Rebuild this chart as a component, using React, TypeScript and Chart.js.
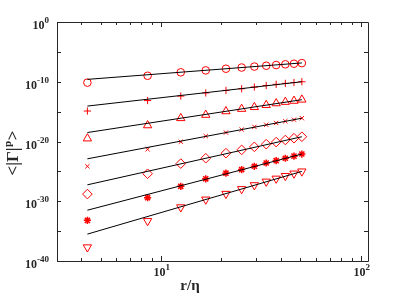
import React, { useEffect, useRef } from "react";
import { Chart, registerables } from "chart.js";

Chart.register(...registerables);

// r/eta positions of the measured points
const rEta = [4.3, 8.6, 12.6, 16.8, 21.2, 25.4, 29.4, 33.7, 37.8, 42.0, 46.4, 50.8];

// log10 of <|Gamma|^p> for each order
const s1Log = [-10.15, -9.0, -8.42, -8.1, -7.82, -7.62, -7.46, -7.32, -7.2, -7.08, -6.98, -6.88];
const s2Log = [-14.9, -13.15, -12.4, -11.87, -11.45, -11.17, -10.88, -10.63, -10.43, -10.27, -10.13, -10.0];
const s3Log = [-19.5, -17.3, -16.1, -15.55, -14.95, -14.55, -14.25, -13.9, -13.62, -13.38, -13.2, -13.0];
const s4Log = [-24.15, -21.3, -20.05, -19.1, -18.5, -18.0, -17.55, -17.2, -16.9, -16.6, -16.35, -16.1];
const s5Log = [-28.8, -25.4, -23.7, -22.8, -21.95, -21.4, -20.9, -20.45, -20.1, -19.75, -19.45, -19.2];
const s6Log = [-33.2, -29.4, -27.5, -26.25, -25.3, -24.7, -24.15, -23.6, -23.2, -22.8, -22.45, -22.1];
const s7Log = [-37.7, -33.3, -31.0, -29.7, -28.75, -27.95, -27.3, -26.7, -26.2, -25.75, -25.35, -25.0];

// power-law fit lines: endpoints in r/eta and log10 values
const fitX = [4.3, 50.8];
const fitStartLog = [-9.6, -14.07, -18.5, -22.9, -27.25, -31.5, -35.5];
const fitEndLog = [-6.85, -10.0, -13.0, -16.1, -19.2, -22.1, -25.0];

const markerStyles = ["circle", "cross", "triangle", "crossRot", "rectRot", "star", "triangle"];
const markerRotations = [0, 0, 0, 0, 0, 0, 180];
const markerRadii = [3.8, 3.6, 4.8, 3, 4.8, 3.6, 4.8];
const markerFilled = [false, false, false, false, false, true, false];

const xMajorTicks = [10, 100];
const xMinorTicks = [4, 5, 6, 7, 8, 9, 20, 30, 40, 50, 60, 70, 80, 90];
const yTickExps = [-40, -35, -30, -25, -20, -15, -10, -5, 0];
const yLabelExps = [-40, -30, -20, -10, 0];

const xTitle = "r/η";
const yTitleMain = "<|Γ|";
const yTitleSup = "p";
const yTitleEnd = ">";

const FONT = "'Liberation Serif', 'Times New Roman', serif";
const INK = "#262626";

function drawPow(ctx: CanvasRenderingContext2D, exp: number, x: number, baseY: number, align: "right" | "center") {
  const base = "10";
  const sup = String(exp);
  ctx.font = `bold 12px ${FONT}`;
  const wb = ctx.measureText(base).width;
  ctx.font = `bold 9px ${FONT}`;
  const ws = ctx.measureText(sup).width;
  const start = align === "right" ? x - wb - ws : x - (wb + ws) / 2;
  ctx.textAlign = "left";
  ctx.textBaseline = "alphabetic";
  ctx.font = `bold 12px ${FONT}`;
  ctx.fillText(base, start, baseY);
  ctx.font = `bold 9px ${FONT}`;
  ctx.fillText(sup, start + wb, baseY - 6);
}

const framePlugin = {
  id: "matlabFrame",
  afterDraw(chart: any) {
    const { ctx, chartArea } = chart;
    const { left, right, top, bottom } = chartArea;
    const xs = chart.scales.x;
    const ys = chart.scales.y;
    ctx.save();
    ctx.setTransform(1, 0, 0, 1, 0, 0);
    ctx.strokeStyle = INK;
    ctx.lineWidth = 1;
    ctx.beginPath();
    ctx.rect(Math.round(left) + 0.5, Math.round(top) + 0.5, Math.round(right - left), Math.round(bottom - top));
    ctx.stroke();
    ctx.beginPath();
    const drawX = (v: number, len: number) => {
      const px = Math.round(xs.getPixelForValue(v)) + 0.5;
      ctx.moveTo(px, bottom);
      ctx.lineTo(px, bottom - len);
      ctx.moveTo(px, top);
      ctx.lineTo(px, top + len);
    };
    xMajorTicks.forEach((v) => drawX(v, 5));
    xMinorTicks.forEach((v) => drawX(v, 3));
    yTickExps.forEach((e) => {
      const py = Math.round(ys.getPixelForValue(Math.pow(10, e))) + 0.5;
      ctx.moveTo(left, py);
      ctx.lineTo(left + 4, py);
      ctx.moveTo(right, py);
      ctx.lineTo(right - 4, py);
    });
    ctx.stroke();

    // tick labels
    ctx.fillStyle = INK;
    yLabelExps.forEach((e) => {
      const py = ys.getPixelForValue(Math.pow(10, e));
      drawPow(ctx, e, left - 8, py + 7, "right");
    });
    xMajorTicks.forEach((v) => {
      const px = xs.getPixelForValue(v);
      drawPow(ctx, Math.round(Math.log10(v)), px + 1, bottom + 15, "center");
    });

    // axis titles
    ctx.font = `bold 15px ${FONT}`;
    ctx.textAlign = "center";
    ctx.textBaseline = "alphabetic";
    ctx.fillText(xTitle, 190, 290);

    // rotated y title, centred at (cx, cy)
    const cx = 14;
    const cy = 153;
    ctx.translate(cx, cy);
    ctx.rotate(-Math.PI / 2);
    ctx.textAlign = "left";
    ctx.textBaseline = "middle";
    ctx.font = `bold 17px ${FONT}`;
    const w1 = ctx.measureText(yTitleMain).width;
    const w3 = ctx.measureText(yTitleEnd).width;
    ctx.font = `bold 11px ${FONT}`;
    const w2 = ctx.measureText(yTitleSup).width;
    const start = -(w1 + w2 + w3 + 1) / 2;
    ctx.font = `bold 17px ${FONT}`;
    ctx.fillText(yTitleMain, start, 0);
    ctx.font = `bold 11px ${FONT}`;
    ctx.fillText(yTitleSup, start + w1 + 0.5, -6);
    ctx.font = `bold 17px ${FONT}`;
    ctx.fillText(yTitleEnd, start + w1 + w2 + 1, 0);
    ctx.restore();
  },
};

export default function App() {
  const ref = useRef<HTMLCanvasElement | null>(null);

  useEffect(() => {
    if (!ref.current) return;
    const seriesLogs = [s1Log, s2Log, s3Log, s4Log, s5Log, s6Log, s7Log];

    const lineSets = fitStartLog.map((s, i) => ({
      type: "line" as const,
      label: `fit ${i + 1}`,
      data: [
        { x: fitX[0], y: Math.pow(10, s) },
        { x: fitX[1], y: Math.pow(10, fitEndLog[i]) },
      ],
      showLine: true,
      borderColor: "#000000",
      borderWidth: 1,
      pointRadius: 0,
      fill: false,
    }));

    const pointSets = seriesLogs.map((arr, i) => ({
      type: "scatter" as const,
      label: `p${i + 1}`,
      data: arr.map((v, j) => ({ x: rEta[j], y: Math.pow(10, v) })),
      showLine: false,
      pointStyle: markerStyles[i] as any,
      rotation: markerRotations[i],
      pointRadius: markerRadii[i],
      pointBorderColor: "#ff0000",
      pointBackgroundColor: markerFilled[i] ? "#ff0000" : "rgba(0,0,0,0)",
      pointBorderWidth: markerFilled[i] ? 1.5 : 1,
    }));

    const chart = new Chart(ref.current, {
      type: "scatter",
      data: { datasets: [...lineSets, ...pointSets] as any },
      options: {
        responsive: false,
        animation: false,
        layout: { padding: { left: 0, top: 22, right: 39, bottom: 0 } },
        plugins: { legend: { display: false }, tooltip: { enabled: false } },
        scales: {
          x: {
            type: "logarithmic",
            min: 3.03,
            max: 108.8,
            grid: { display: false, drawTicks: false },
            border: { display: false },
            ticks: { display: false },
            afterFit: (s: any) => {
              s.height = 44;
            },
          },
          y: {
            type: "logarithmic",
            min: 1e-40,
            max: 1,
            grid: { display: false, drawTicks: false },
            border: { display: false },
            ticks: { display: false },
            afterFit: (s: any) => {
              s.width = 57;
            },
          },
        },
      },
      plugins: [framePlugin],
    });
    return () => chart.destroy();
  }, []);

  return (
    <div style={{ position: "absolute", left: 0, top: 0, width: 407, height: 305, background: "#fff" }}>
      <canvas ref={ref} width={407} height={305} />
    </div>
  );
}
